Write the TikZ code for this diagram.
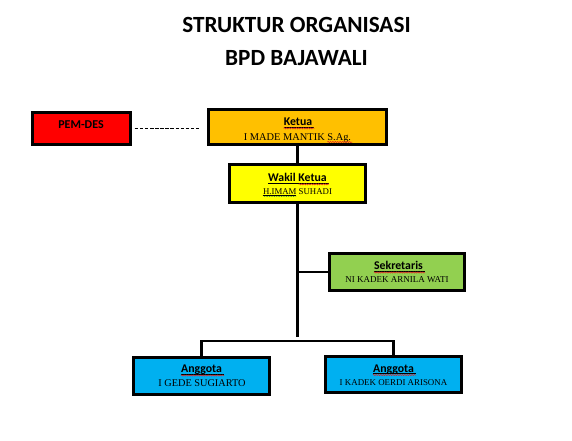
\documentclass[tikz,border=0pt]{standalone}
\usepackage{fontspec}
\setmainfont{Liberation Serif}
\newfontfamily\calfont{Carlito}
\usetikzlibrary{decorations.pathmorphing}
\definecolor{cred}{HTML}{FF0000}
\definecolor{corange}{HTML}{FFC000}
\definecolor{cyellow}{HTML}{FFFF00}
\definecolor{cgreen}{HTML}{92D050}
\definecolor{cblue}{HTML}{00B0F0}
\definecolor{spellred}{HTML}{E02020}
\definecolor{spellgreen}{HTML}{3A9A3A}
\tikzset{
  box/.style={draw=black, line width=2.4pt, inner sep=0pt, minimum width=#1},
  lbl/.style={font=\calfont\bfseries\fontsize{11.8}{13}\selectfont, inner sep=0pt, anchor=base},
  nm/.style={inner sep=0pt, anchor=base},
  conn/.style={line width=2.3pt},
  uline/.style={line width=0.6pt},
  spell/.style={line width=0.5pt, decorate, decoration={snake, amplitude=0.6pt, segment length=2.4pt}},
}
\begin{document}
\begin{tikzpicture}[x=1pt,y=-1pt]
\path[use as bounding box] (0,0) rectangle (572,441);
% title
\node[font=\calfont\bfseries\fontsize{23.2}{26}\selectfont, inner sep=0pt, anchor=base] (t1) at (296.5,32.3) {STRUKTUR ORGANISASI};
\node[font=\calfont\bfseries\fontsize{23.2}{26}\selectfont, inner sep=0pt, anchor=base] (t2) at (296.5,66) {BPD BAJAWALI};
% boxes
\node[box=98pt, minimum height=32pt, fill=cred] (pem) at (81.5,128.5) {};
\node[box=178pt, minimum height=35pt, fill=corange] (ketua) at (297.5,127) {};
\node[box=136pt, minimum height=38pt, fill=cyellow] (wakil) at (297.5,183.5) {};
\node[box=135pt, minimum height=37pt, fill=cgreen] (sek) at (397,272) {};
\node[box=136pt, minimum height=37pt, fill=cblue] (a1) at (201.5,376) {};
\node[box=136pt, minimum height=36pt, fill=cblue] (a2) at (393.5,374.5) {};
% texts
\node[font=\calfont\bfseries\fontsize{12}{14}\selectfont, inner sep=0pt, anchor=base] (pemT) at (81,128.3) {PEM-DES};
\node[lbl] (ketuaL) at (298,125.3) {Ketua};
\node[nm, font=\fontsize{10.4}{12}\selectfont] (ketuaN) at (297.5,140) {I MADE MANTIK S.Ag.};
\node[lbl] (wakilL) at (297.5,181.3) {Wakil Ketua};
\node[nm, font=\fontsize{8.8}{10}\selectfont] (wakilN) at (297.5,194) {H.IMAM SUHADI};
\node[lbl] (sekL) at (398.5,269.5) {Sekretaris};
\node[nm, font=\fontsize{9}{11}\selectfont] (sekN) at (397,282) {NI KADEK ARNILA WATI};
\node[lbl] (a1L) at (201.5,372.5) {Anggota};
\node[nm, font=\fontsize{10.3}{12}\selectfont] (a1N) at (202,386) {I GEDE SUGIARTO};
\node[lbl] (a2L) at (393.5,372) {Anggota};
\node[nm, font=\fontsize{8.9}{11}\selectfont] (a2N) at (393.5,385) {I KADEK OERDI ARISONA};
% underlines
\foreach \n in {ketuaL,wakilL,sekL,a1L,a2L}{
  \draw[uline] ([yshift=-1.6pt]\n.base west) -- ([yshift=-1.6pt,xshift=2pt]\n.base east);
}
\foreach \n in {ketuaL,sekL,a1L,a2L}{
  \draw[spell, spellred] ([yshift=-3pt]\n.base west) -- ([yshift=-3pt,xshift=2pt]\n.base east);
}
\draw[spell, spellred] ([yshift=-3pt,xshift=-28.4pt]wakilL.base east) -- ([yshift=-3pt,xshift=2pt]wakilL.base east);
\draw[spell, spellred] ([yshift=-2pt,xshift=-23.9pt]ketuaN.base east) -- ([yshift=-2pt,xshift=1pt]ketuaN.base east);
\draw[spell, spellgreen] ([yshift=-2pt]wakilN.base west) -- ([yshift=-2pt,xshift=33.5pt]wakilN.base west);
\draw[uline] ([yshift=-1.2pt]wakilN.base west) -- ([yshift=-1.2pt,xshift=33.5pt]wakilN.base west);
% connectors
\draw[line width=1.7pt, dash pattern=on 3.5pt off 1.6pt, shorten <=3pt, shorten >=7pt] (pem.east) -- (ketua.west |- pem.east);
\draw[conn] (ketua.south) -- (wakil.north);
\coordinate (trunkEnd) at (297.5,337);
\coordinate (barMid) at (297.5,341);
\draw[conn] (wakil.south) -- (trunkEnd);
\draw[conn] (sek.west -| wakil.south) -- (sek.west);
\draw[conn] (a1.north) |- (barMid) -| (a2.north);
\end{tikzpicture}
\end{document}
